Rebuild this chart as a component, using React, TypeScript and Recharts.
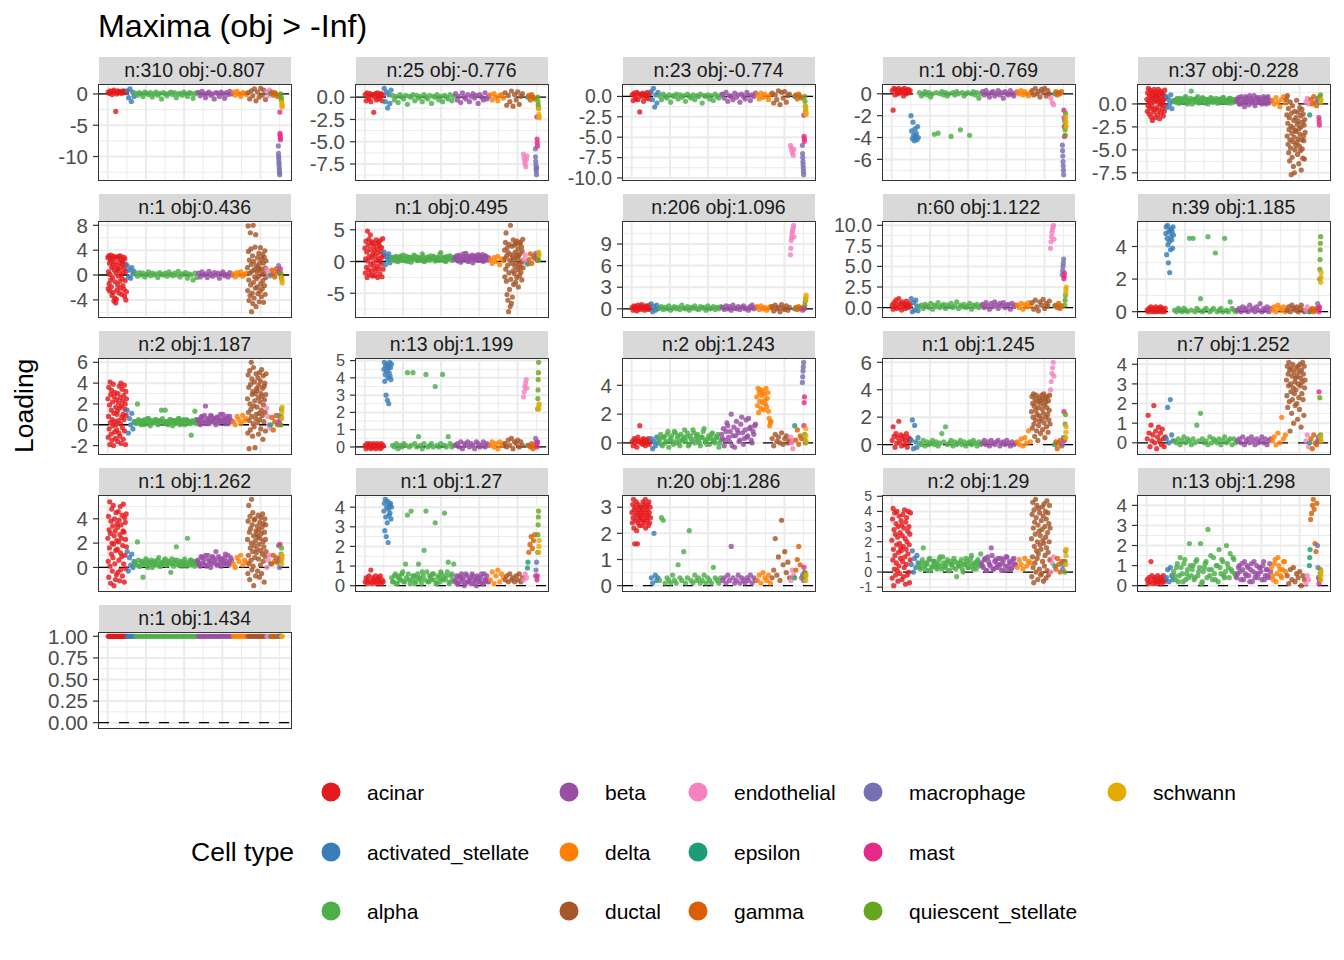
import React from 'react';
import { ScatterChart, Scatter, XAxis, YAxis, CartesianGrid, ReferenceLine } from 'recharts';

const FONT = '"Liberation Sans", Arial, Helvetica, sans-serif';

const cellTypes = ['acinar', 'activated_stellate', 'alpha', 'beta', 'delta', 'ductal', 'endothelial', 'epsilon', 'gamma', 'macrophage', 'mast', 'quiescent_stellate', 'schwann'];
const cellColors = ['#E41A1C', '#377EB8', '#4DAF4A', '#984EA3', '#FF7F00', '#A65628', '#F781BF', '#1B9E77', '#D95F02', '#7570B3', '#E7298A', '#66A61E', '#E6AB02'];
// cells per type, in the order they run along x
const cellCounts = [990, 420, 3300, 1820, 780, 990, 210, 50, 370, 80, 40, 60, 30];

const stripLabels = [
  'n:310 obj:-0.807', 'n:25 obj:-0.776', 'n:23 obj:-0.774', 'n:1 obj:-0.769', 'n:37 obj:-0.228',
  'n:1 obj:0.436', 'n:1 obj:0.495', 'n:206 obj:1.096', 'n:60 obj:1.122', 'n:39 obj:1.185',
  'n:2 obj:1.187', 'n:13 obj:1.199', 'n:2 obj:1.243', 'n:1 obj:1.245', 'n:7 obj:1.252',
  'n:1 obj:1.262', 'n:1 obj:1.27', 'n:20 obj:1.286', 'n:2 obj:1.29', 'n:13 obj:1.298',
  'n:1 obj:1.434',
];

const panelTicks = [
  ['0', '-5', '-10'], ['0.0', '-2.5', '-5.0', '-7.5'], ['0.0', '-2.5', '-5.0', '-7.5', '-10.0'], ['0', '-2', '-4', '-6'], ['0.0', '-2.5', '-5.0', '-7.5'],
  ['8', '4', '0', '-4'], ['5', '0', '-5'], ['9', '6', '3', '0'], ['10.0', '7.5', '5.0', '2.5', '0.0'], ['4', '2', '0'],
  ['6', '4', '2', '0', '-2'], ['5', '4', '3', '2', '1', '0'], ['4', '2', '0'], ['6', '4', '2', '0'], ['4', '3', '2', '1', '0'],
  ['4', '2', '0'], ['4', '3', '2', '1', '0'], ['3', '2', '1', '0'], ['5', '4', '3', '2', '1', '0', '-1'], ['4', '3', '2', '1', '0'],
  ['1.00', '0.75', '0.50', '0.25', '0.00'],
];

// loadings per panel, one list per cell type (order of cellTypes)
const p01 = [
  [0.3, 0.1, 0.5, 0.2, -0.1, 0.4, 0.6, 0.2, -2.8, 0, 0.5, 0.3, 0.2, 0.4, 0.1, 0.3, 0.5, 0.2, 0.4, 0.3],
  [0.5, -0.6, 0.8, -1.2, 0.3, -0.4],
  [0.1, -0.2, 0.2, 0, -0.4, 0.3, 0.1, -0.1, 0.2, -0.5, 0, 0.3, -0.2, 0.1, -0.8, 0.2, 0, -0.3, 0.1, 0.3, -0.1, 0.2, -0.6, 0, 0.1, -0.2, 0.3, 0, -0.4, 0.2, 0.1, -0.7, 0, 0.2],
  [0.2, -0.3, 0.4, 0, -0.6, 0.1, 0.3, -0.2, 0, -0.8, 0.2, 0.1, -0.4, 0.3, 0, -0.7, 0.2, -0.1, 0.4, 0],
  [0.3, -0.2, 0.4, 0, -0.4, 0.2, 0.1, -0.1],
  [0.2, -0.8, 0.5, -0.3, 0.8, -1.1, 0.3, -0.5, 0.9, -0.2, 0.6, -0.9],
  [0.4, -0.3, 0.6],
  [0.1],
  [0.3, -0.2, 0.2, 0, -0.4],
  [-8.3, -9.5, -10, -10.4, -10.9, -11.3, -11.8, -12.2, -12.6, -12.9],
  [-2.9, -6.3, -6.6, -7, -7.3],
  [0, -0.4, -0.8, -1],
  [-1.3, -1.6, -1.9, -2.1],
];
const p02 = [
  [0.3, -0.4, 0.5, 0.1, -0.2, 0.4, -0.5, 0.2, 0.3, -1.7, 0, 0.4, -0.3, 0.5, 0.1, -0.2, 0.3, 0.4, -0.4, 0.2],
  [1.0, -0.5, 0.6, -1.2, 0.3, -0.7, 0.8],
  [0.2, -0.3, 0.1, -0.6, 0.3, 0, -0.2, 0.2, -0.8, 0.1, 0, 0.3, -0.4, 0.2, -0.1, 0.1, -0.5, 0.3, 0, -0.2, 0.2, -0.7, 0.1, 0, 0.3, -0.3, 0.1, -0.5, 0.2, 0, -0.2, 0.3, -0.4, 0.1],
  [0.4, -0.3, 0.1, -0.6, 0.5, 0, -0.2, 0.3, -0.5, 0.1, 0.4, -0.1, 0.2, -0.7, 0.3, 0, -0.3, 0.5, -0.2, 0.1],
  [0.3, -0.3, 0.4, 0, -0.4, 0.2, 0.3, -0.1],
  [0.5, -0.9, 0.2, -0.5, 0.7, -1.0, 0.3, -0.3, 0.6, -0.8, 0.1, 0.4],
  [-6.4, -6.8, -7.2, -7.5, -7.8, -7.0, -6.6],
  [0],
  [0.2, -0.3, 0.3, 0, -0.2],
  [-5.8, -6.7, -7.2, -7.6, -8, -8.3, -8.7, -7.9],
  [-2.2, -4.7, -5.1, -5.5],
  [0, -0.5, -0.9, -1.2],
  [-1.3, -1.9, -2.2, -2.3],
];
const p03 = [
  [0.2, -0.5, 0.4, 0.1, -0.3, 0.5, -0.4, 0.3, -1.9, 0.2, 0, 0.4, -0.6, 0.3, 0.1, -0.2, 0.5, 0.2, -0.3, 0.4],
  [0.6, -0.4, 1.0, -1.3, 0.2, -0.8, 0.5],
  [0.1, -0.4, 0.3, 0, -0.2, 0.2, -0.7, 0.1, 0, 0.3, -0.3, 0.2, -0.1, 0.1, -0.6, 0.3, 0, -0.2, 0.2, -0.4, 0.1, 0, 0.3, -0.8, 0.1, 0, 0.2, -0.3, 0.1, -0.5, 0.3, 0, -0.2, 0.2],
  [0.3, -0.2, 0.5, -0.6, 0.1, 0, -0.4, 0.4, -0.1, 0.2, -0.7, 0.3, 0, -0.3, 0.5, 0.1, -0.5, 0.2, 0, 0.4],
  [0.2, -0.3, 0.4, -0.1, 0.3, 0, -0.4, 0.2],
  [0.4, -0.8, 0.2, -0.4, 0.7, -1.0, 0.5, -0.2, 0.6, -0.7, 0.1, 0.3],
  [-6.0, -6.3, -6.6, -6.9, -7.2, -6.5],
  [0],
  [0.2, -0.3, 0.3, 0, -0.2],
  [-6, -7, -7.5, -8, -8.4, -8.8, -9.2, -9.6],
  [-2.3, -4.9, -5.2, -5.5],
  [0, -0.6, -1.2, -1.8],
  [-1.2, -1.6, -2.0, -2.2],
];
const p04 = [
  [0.3, -1.5, 0.5, -0.1, 0.4, 0.2, 0, 0.5, 0.1, 0.3, 0.1, 0.4, -0.2, 0.5, 0.2, 0, 0.3, 0.4, 0.1, 0.3],
  [-2.0, -3.4, -4.1, -2.6, -3.8, -4.3, -3.2, -3.9, -3.6, -4.2, -3.0, -4.0],
  [0.1, -0.2, 0, 0.2, -0.1, 0.1, -0.3, 0, -3.7, 0.1, -3.6, 0, 0.2, -0.1, 0.1, -0.2, 0, -3.9, 0.1, -0.1, 0.2, 0, -3.3, 0.1, -0.2, 0, 0.1, -3.8, 0, 0.2, -0.1, 0.1, -0.4, 0],
  [0.2, -0.1, 0.3, 0, -0.3, 0.1, 0.2, -0.2, 0, 0.3, -0.1, 0.1, -0.4, 0.2, 0, -0.1, 0.3, 0, -0.2, 0.1],
  [0.2, 0, 0.3, -0.1, 0.2, 0, -0.2, 0.1],
  [0.3, -0.1, 0.5, 0, 0.2, -0.3, 0.4, 0.1, 0.5, -0.2, 0.3, 0],
  [-0.4, -0.8, -1.0],
  [0],
  [0.2, -0.1, 0.1, 0, 0.2],
  [-4.7, -5.2, -5.7, -6.2, -6.6, -7, -7.4],
  [-1.5, -2.2, -3.0, -3.9],
  [-2.5, -2.9, -3.3, -3.8, -1.8],
  [-2.2, -2.6, -3.0],
];
const p05 = [
  [0.5, -0.8, 1.2, -0.2, 1.7, 0.3, -1.1, 0.9, -0.5, 1.5, 0.1, -1.4, 0.7, 1.1, -0.3, -1.8, 0.6, 1.3, -0.9, 0.2, 1.6, -0.6, 0.8, -1.5, 0.4, 1.0,
    1.3, -0.4, 0.9, -1.2, 0.2, 1.6, -0.7, 0.6, 1.1, -1.6, 0.4, -0.1, 1.4, -1.0, 0.8, 0, 1.2, -0.5, 0.3, -1.3, 1.0, 0.5, -0.8, 1.5, -0.2, 0.7],
  [0.8, -0.4, 0.5, 0, 1.0, -0.5, 0.3],
  [0.3, 0.5, 0.1, 0.6, 0.2, 0.4, 0.8, 0, 0.3, 1.4, 0.5, 0.2, 0.6, 0.1, 0.4, 0.7, 0.2, 0.5, 0, 0.3, 0.6, 0.2, 0.4, 0.1, 0.5, 0.3, 0.7, 0.2, 0.4, 0.1, 0.6, 0.3, 0.2, 0.5],
  [0.5, 0, 0.8, 0.2, -0.3, 0.6, 0.3, 0.9, 0.1, 0.4, -0.2, 0.7, 0.2, 0.5, 0, 0.8, 0.3, 0.6, 0.1, 0.4],
  [0.4, 0, 0.7, 0.2, -0.3, 0.5, 0.8, 0.1],
  [0.5, -1.2, -3.5, 0.9, -2.1, -4.4, -0.5, -5.3, -2.8, -1.5, -6.2, -3.9, 0.2, -4.8, -2.4, -7.7, -1.0, -3.2, -5.8, -0.2, -4.1, -2.6, -6.8, -1.8, -3.6, -7.5, -0.8, -5.0, -2.9, -4.5,
    -1.5, -3.0, 0.4, -4.2, -2.2, -5.5, -0.9, -3.8, -1.9, -6.5, -2.7, -4.6, -0.4, -3.3, -5.1, -1.3, -2.5, -7.2, -3.9, -0.6, -4.9, -2.0, -5.9, -1.1, -3.5, -4.0, -2.3, -6.0, -1.7, -3.1],
  [0.2, 0.6, 0],
  [-1.2],
  [0.5, 0, 0.8, 0.2, -0.2],
  [0.6, 0.3],
  [-1.5, -1.9, -2.3],
  [0.8, 0.4, 1.0],
  [0.2, 0.5],
];
const p06 = [
  [2.8, -2.2, 0.5, 3.1, -1.4, 1.9, -2.6, 0.1, 2.4, -0.8, 3.2, -1.9, 1.2, -3.3, 2.6, -0.4, 1.6, -2.8, 3.0, -4.2, 0.8, 2.1, -3.7, -1.1, 2.9, -4.5, 0.3, -3.9, 1.5, -2.4,
    1.0, -1.6, 2.7, -0.2, 3.0, -2.9, 0.7, 2.0, -1.0, 3.1, -2.1, 1.3, 0.0, 2.5, -3.1, 1.8, -0.6, 2.2, -1.7, 0.4, 2.9, -2.3, 1.1, -3.4, 2.6, -0.9, 1.7, -4.0, 0.6, -2.7],
  [1.5, -0.3, 0.8, -0.5, 1.2, 0.2, 0.6],
  [0.2, -0.2, 0.4, 0, 0.3, -0.3, 0.1, 0.5, -0.1, 0.3, 0, 0.2, -0.4, 0.4, 0.1, 0, 0.3, -0.2, 0.5, 0.1, -0.1, 0.3, 0, 0.6, -0.3, 0.2, 0.1, 0.4, -0.5, 0.2, 0, -0.8, 0.3, -0.4],
  [0.3, -0.3, 0.5, 0, 0.2, -0.4, 0.6, 0.1, -0.2, 0.4, 0, 0.3, -0.5, 0.2, 0.5, -0.1, 0.1, -0.3, 0.4, 0],
  [0.2, -0.3, 0.4, 0, 0.5, -0.2, 0.1, 0.3],
  [1.2, -2.5, 7.9, 3.8, -0.8, -4.1, 2.4, 0.3, -3.3, 6.8, -1.6, 4.2, 1.7, -5.9, 0.6, -2.9, 3.1, -4.6, 8.0, -1.2, 2.2, -3.7, 0.9, -0.3, 4.5, -2.1, 6.5, -5.1, 1.5, -0.6,
    0.5, -1.9, 2.8, -3.0, 1.3, -0.2, 3.5, -4.3, 0.8, 2.0, -2.6, 4.4, -1.4, 1.0, -3.5, 2.6, 0.1, -2.2, 3.3, -0.9, 1.9, -4.4, 0.4, 2.9, -1.7, 3.9, -3.1, 1.1, -0.4, 2.3],
  [0.9, 0.2, -0.2],
  [0],
  [0.8, 0.2, -0.3, 1.0, 0.5],
  [1.5, 0.4],
  [0.2, 1.0],
  [0.3, -0.3, -0.6],
  [-0.4, -0.9, -1.3],
];
const p07 = [
  [2.1, -1.8, 0.4, 3.2, -0.9, 1.5, -2.5, 4.8, 0.1, 2.6, -1.3, 3.5, 0.8, -2.1, 1.9, 4.2, -0.5, 2.9, -1.6, 0.6, 3.1, -2.3, 1.2, -0.2, 2.4, -1.0,
    1.7, -2.2, 0.9, 2.8, -1.5, 3.4, 0.2, -0.7, 2.0, -2.5, 1.3, 3.0, -1.1, 0.5, 2.5, -1.9, 3.3, 0, 1.6, -0.4, 2.2, -2.4, 0.7, 3.6, -1.2, 1.0],
  [1.5, -0.5, 0.8, 0.3, 1.2, -0.2, 0.6],
  [0.5, 0.2, 0.8, 0, 0.6, 0.3, 1.0, 0.1, 0.4, 0.7, -0.1, 0.5, 0.9, 0.2, 0.6, 0.3, 1.2, 0, 0.4, 0.7, 0.2, 0.5, 0.8, 0.1, 0.6, 0.3, 1.4, 0.4, 0.7, 0.1, 0.5, 0.9, 0.2, 0.6],
  [0.6, 0.2, 1.0, -0.1, 0.7, 0.3, 1.3, 0.1, 0.8, 0.4, -0.2, 0.9, 0.5, 1.1, 0.2, 0.7, 0, 0.9, 0.4, 0.6],
  [0.3, -0.3, 0.6, 0, 0.8, -0.5, 0.4, 0.2],
  [1.8, -2.4, 0.5, 3.0, -1.2, 4.5, -3.1, 0.9, -5.2, 2.2, -0.6, -6.1, 1.4, -7.9, -1.8, 2.7, -4.4, 0.2, -7.1, 5.7, -2.8, 1.1, -6.6, -0.3, 2.4, -5.6, 0.7, -1.5, 3.4, -3.6,
    0.3, -1.9, 2.6, -0.8, 1.5, -3.3, 2.9, -0.2, 1.0, -2.5, 3.2, 0.6, -1.3, 2.0, -4.0, 0.9, -0.5, 2.8, -2.2, 1.2, -0.9, 3.0, -1.7, 0.1, 2.3, -2.9, 1.6, -0.1, 3.5, -1.0],
  [0.3, 1.0, -0.2],
  [-0.4],
  [0.3, 1.2, -0.3, 0.8, 0.5],
  [1.3, 0.6],
  [1.0, 0.2],
  [0.5, 1.2, 0.2],
  [1.5, 1.0],
];
const p08 = [
  [0.2, -0.2, 0.4, 0, 0.3, -0.3, 0.5, 0.1, -0.1, 0.3, 0.6, 0, 0.2, -0.2, 0.4, 0.1, 0.3, -0.1, 0.5, 0],
  [0.7, -0.4, 0.3, -0.2, 0.5, 0],
  [0.1, 0.3, -0.1, 0.2, 0, 0.4, -0.2, 0.1, 0.3, 0, 0.2, -0.1, 0.5, 0.1, 0, 0.3, -0.2, 0.2, 0.1, 0.4, 0, -0.1, 0.3, 0.1, 0.2, -0.2, 0.4, 0, 0.1, 0.3, -0.1, 0.2, 0, 0.3],
  [0.2, -0.1, 0.4, 0, 0.3, -0.2, 0.5, 0.1, 0, 0.3, -0.1, 0.2, 0.4, 0, 0.1, -0.2, 0.3, 0.5, 0, 0.2],
  [0.3, -0.1, 0.4, 0, 0.2, -0.2, 0.1, 0.3],
  [0.3, -0.3, 0.5, 0, 0.2, -0.4, 0.6, 0.1, -0.1, 0.4, -0.2, 0.2],
  [7.5, 8.4, 9.5, 9.9, 10.3, 10.7, 11.0, 11.3, 11.6, 10.0],
  [0],
  [0.2, -0.1, 0.3, 0, 0.1],
  [-0.2, 0.1],
  [0, 0.2],
  [0.5, 1.0, 1.4],
  [1.2, 1.6, 1.9],
];
const p09 = [
  [0.3, -0.2, 0.6, 0.1, 0.9, -0.1, 0.4, 1.1, 0, 0.5, -0.3, 0.7, 0.2, 0.4, -0.1, 0.8, 0.3, 0, 0.5, 0.2],
  [1.1, -0.5, 0.6, -0.3, 0.9, 0.2, -0.4],
  [0.1, 0.3, -0.1, 0.4, 0.2, 0, 0.5, -0.2, 0.3, 0.1, 0.6, 0, 0.2, 0.4, -0.1, 0.3, 0.1, 0.5, 0, 0.2, 0.7, -0.1, 0.3, 0.1, 0.4, 0, 0.2, 0.5, -0.2, 0.3, 0.1, 0.4, 0, 0.2],
  [0.4, 0, 0.6, 0.2, -0.2, 0.5, 0.1, 0.7, 0.3, -0.1, 0.5, 0.2, 0.6, 0, 0.3, 0.4, -0.2, 0.5, 0.1, 0.3],
  [0.3, 0, 0.5, -0.2, 0.4, 0.1, 0.6, 0.2],
  [0.6, -0.2, 0.9, 0.1, -0.4, 0.7, 0.3, 1.0, -0.1, 0.5, 0.2, 0.8],
  [7.2, 8.0, 8.6, 9.1, 9.5, 9.8, 10.0, 8.3],
  [0.2],
  [0.3, 0, 0.5, -0.1, 0.2],
  [4.0, 4.5, 5.0, 5.4, 5.9],
  [3.5, 3.8, 4.2],
  [0.3, 0.9, 1.5],
  [1.8, 2.2, 2.5],
];
const p10 = [
  [0.1, 0, 0.2, 0.1, 0.3, 0, 0.1, 0.2, 0, 0.3, 0.1, 0, 0.2, 0.1, 0.3, 0, 0.2, 0.1, 0, 0.2],
  [4.8, 5.2, 3.5, 4.5, 5.3, 4.1, 3.0, 4.9, 4.3, 2.4, 5.0, 3.8, 4.6, 5.1, 4.4, 4.9, 3.9, 5.2, 4.7],
  [0.1, 0, 0.2, 0.1, 0, 0.2, 0.1, 0, 4.5, 0.1, 4.5, 0, 0.2, 0.1, 0.8, 0, 0.1, 0.2, 4.6, 0, 0.1, 0.2, 3.6, 0, 0.1, 0.2, 0, 4.5, 0.1, 0, 0.6, 0.2, 0.1, 0],
  [0.1, 0.2, 0, 0.3, 0.1, 0.2, 0, 0.4, 0.1, 0.2, 0, 0.3, 0.1, 0.5, 0, 0.2, 0.1, 0.3, 0, 0.2],
  [0.1, 0.3, 0, 0.4, 0.2, 0.1, 0.3, 0],
  [0.1, 0.3, 0, 0.4, 0.2, 0.1, 0.3, 0, 0.2, 0.4, 0.1, 0],
  [0.1, 0.3, 0],
  [0],
  [0.1, 0.2, 0, 0.1, 0.2],
  [0.5, 0.2],
  [0, 0.2, 0.3],
  [2.0, 2.6, 3.2, 3.8, 4.2, 4.6],
  [1.8, 2.1, 2.4],
];
const p11 = [
  [2.5, -1.2, 0.8, 3.6, -0.4, 1.9, -1.9, 4.1, 0.2, 2.9, -0.9, 1.4, 3.3, -1.5, 0.5, 2.2, -0.1, 3.9, -2.0, 1.1, 2.7, -0.7, 0.3, 3.1, -1.3, 1.7, 0, 2.4, -0.5, 1.0,
    1.3, -1.6, 3.0, 0.4, 2.1, -0.8, 3.7, 1.6, -1.1, 2.6, 0.1, 4.0, -1.8, 1.8, 0.7, 3.4, -0.3, 2.3, 1.0, -1.4, 2.8, 0.5, 3.8, -0.6, 1.5, 2.0, -1.9, 3.2, 0.9, 2.5],
  [1.4, -0.8, 0.6, 0, 1.1, -0.4, 0.3],
  [0.2, 2.0, 0.4, 0, 0.3, 0.5, 0.1, 0.6, -0.1, 0.3, 0.2, 0.5, 0, 0.4, 1.4, 0.2, 1.4, 0.3, 0.1, 0.5, -0.1, 0.4, 0.2, 0.6, 0, 0.3, 0.5, 0.1, 0.4, 0.2, -1.0, 0.3, 1.3, 0.1],
  [0.4, 0, 0.8, 0.2, 1.8, 0.5, 0.1, 0.9, 0.3, 0.6, 0, 0.7, 0.2, 0.5, 1.0, 0.3, 0.6, 0.1, 0.8, 0.4],
  [0.3, 0, 0.8, 0.5, 0.1, 0.9, 0.4, 0.6],
  [2.5, -0.8, 4.8, 1.2, 3.6, -2.3, 0.4, 5.2, 2.0, -0.5, 3.9, 1.5, 6.0, 0.8, 4.4, 2.9, -1.1, 3.2, 0.1, 5.5, 1.8, -0.2, 4.1, 2.3, -2.2, 3.0, 0.6, 4.9, 1.0, 3.5,
    1.7, 3.3, 0.2, 4.5, 2.6, -0.9, 3.8, 1.1, 5.0, 0.5, 2.2, 4.2, -0.4, 3.0, 1.4, 5.3, 2.7, 0.9, 3.5, -1.4, 4.7, 1.9, 0.3, 3.7, 2.4, 4.0, 1.2, -0.6, 2.9, 4.9],
  [1.6, 0.8, 0, -0.3],
  [0],
  [0.7, -0.5, 0.3, 0.9, 0],
  [0.2, 0.9],
  [0.5, 0],
  [0, 0.8, 1.5],
  [0.6, 1.2, 1.7],
];
const p12 = [
  [0.1, -0.1, 0.2, 0, 0.1, 0.2, -0.1, 0, 0.1, 0.2, 0, -0.1, 0.1, 0.2, 0, 0.1, -0.1, 0.2, 0, 0.1],
  [4.5, 4.9, 3.8, 4.2, 4.7, 3.0, 4.4, 4.8, 2.7, 4.0, 4.6, 2.5, 4.3, 4.9, 4.1, 4.6, 3.9, 4.8],
  [0.1, 0, 0.2, -0.1, 0.1, 0, 0.2, 0.1, 4.3, 0, 0.1, 4.3, 0.2, 0, 0.6, 0.1, -0.1, 0.2, 4.2, 0, 0.1, 0.2, 0, 3.5, 0.1, 0, 0.2, 4.2, 0.1, 0, 0.6, 0.2, 0, 0.1],
  [0.1, 0.2, 0, 0.3, -0.1, 0.2, 0.1, 0.3, 0, 0.2, 0.1, -0.1, 0.3, 0.2, 0, 0.1, 0.3, 0, 0.2, 0.1],
  [0.1, 0.3, 0, 0.2, -0.1, 0.3, 0.1, 0.2],
  [0.2, 0, 0.4, 0.1, 0.5, -0.1, 0.3, 0.2, 0.4, 0, 0.3, 0.1],
  [2.9, 3.2, 3.5, 3.7, 3.9, 3.4],
  [0.1],
  [0.1, 0, 0.2, -0.1, 0.1],
  [0.5, 0.3],
  [0, 0.2, 0.3],
  [2.2, 2.8, 3.3, 3.9, 4.3, 4.9],
  [2.2, 2.4, 2.5],
];
const p13 = [
  [0.1, -0.2, 0.3, 0, 0.2, -0.3, 0.4, 0.1, 1.2, 0, 0.2, -0.1, 0.3, 0.1, -0.2, 0.2, 0, 0.3, -0.1, 0.1],
  [0.3, -0.4, 0.1, -0.2, 0.4, 0],
  [0.2, -0.1, 0.4, 0, 0.6, -0.3, 0.3, 0.1, 0.8, 0, 0.5, -0.2, 0.2, 0.4, 0.1, 0.7, -0.1, 0.3, 0.9, 0, 0.5, 0.2, -0.2, 0.4, 1.0, 0.1, 0.3, -0.1, 0.6, 0.2, 0, 0.4, -0.3, 0.2],
  [0.3, -0.2, 0.8, 1.2, 0.1, 2.0, 0.5, -0.3, 1.5, 0.7, 0.2, 1.8, -0.1, 0.9, 0.4, 1.7, 1.1, 0, 0.6, 1.3],
  [3.2, 2.6, 3.8, 2.1, 3.5, 2.9, 3.7, 2.4, 3.3, 2.8, 3.6, 2.3, 3.4, 3.0, 2.7, 3.8, 2.5, 3.1, 3.5, 2.2, 1.7, 1.2, 1.4, 1.5],
  [0.3, -0.2, 0.6, 0.1, 0.4, 0, 0.7, -0.1, 0.3, 0.5, 0, 0.2],
  [0.4, 0, -0.4, 0.2],
  [1.2],
  [0.2, 0.9, -0.1, 0.5, 0.3],
  [4.2, 4.6, 5.0, 5.3, 5.6],
  [1.2, 2.8, 3.2],
  [0.6, 0.2, 0],
  [1.0, 0.5, 0.1],
];
const p14 = [
  [0.3, 1.3, 0.6, -0.2, 0.8, 0.1, 0.5, 1.7, 0.2, 0.7, -0.1, 0.4, 0.6, 0, 0.3, 0.8, -0.2, 0.5, 0.2, 0.4],
  [0.3, 1.8, -0.3, 1.4, 0.2, -0.2, 0.5],
  [0.1, 0, 0.3, -0.1, 0.2, 0, 0.1, 0.3, 0, 0.2, -0.1, 0.1, 0.8, 0.2, 1.3, 0, 0.1, 0.3, -0.1, 0.2, 0, 0.1, 0.3, 0, 0.2, -0.1, 0.1, 0.2, 0, 0.3, 0.1, -0.1, 0.2, 0],
  [0.1, 0.3, 0, 0.2, -0.1, 0.3, 0.1, 0, 0.2, 0.3, -0.1, 0.1, 0.2, 0, 0.3, 0.1, -0.1, 0.2, 0, 0.1],
  [0.2, 0, 0.4, -0.1, 0.5, 0.1, 1.0, 0.2],
  [2.4, 3.5, 1.2, 3.0, 2.0, 3.7, 1.5, 2.8, 0.6, 3.3, 1.8, 2.5, 3.6, 1.0, 2.2, 3.1, 0.3, 2.7, 1.4, 3.4, 2.1, 1.7, 3.2, 0.8,
    3.0, 1.9, 3.6, 2.6, 1.1, 3.3, 2.3, 3.7, 1.6, 2.9, 0.5, 3.4, 2.0, 3.1, 1.3, 2.7, 3.5, 2.2, 0.9, 3.2, 1.8, 2.5, 3.6, 1.5],
  [4.0, 4.6, 5.2, 5.6, 6.0, 5.0],
  [0],
  [0.2, -0.3, 0.1, 0.3, -0.1],
  [0, 0.5],
  [2.4, 0.3],
  [0.5, 1.5, 2.2],
  [0.5, 0.9, 1.3],
];
const p15 = [
  [0.2, 1.4, 0.5, -0.2, 0.9, 0.1, 0.4, 1.9, 0, 0.6, -0.3, 0.3, 0.8, 0.1, 0.5, -0.1, 0.7, 0.2, -0.2, 0.3],
  [0.2, 1.8, 0, 2.2, 0.4, 0.1],
  [0.1, 0, 0.2, -0.1, 0.1, 0.3, 0, 0.2, 0.1, -0.1, 0.2, 0, 0.9, 0.1, 1.5, 0.2, 0, 0.1, -0.1, 0.3, 0, 0.2, 0.1, 0, 0.2, -0.1, 0.1, 0.3, 0, 0.1, 0.2, -0.1, 0.2, 0],
  [0.1, 0.2, 0, 0.3, -0.1, 0.1, 0.2, 0, 0.3, 0.1, -0.1, 0.2, 0, 0.1, 0.3, 0, 0.2, -0.1, 0.1, 0.2],
  [0.1, 0.3, -0.1, 0.5, 0, 1.3, 0.2, 0.4],
  [3.2, 2.4, 3.9, 1.8, 3.5, 2.9, 4.1, 2.1, 3.7, 0.6, 3.0, 2.6, 3.8, 1.5, 3.4, 2.2, 4.0, 2.8, 1.0, 3.6, 2.5, 3.1, 1.9, 3.3,
    2.7, 3.8, 2.0, 3.4, 1.2, 3.9, 3.0, 2.3, 3.6, 1.7, 4.0, 2.9, 3.3, 0.8, 3.7, 2.5, 3.1, 4.1, 2.2, 3.5, 1.4, 3.9, 2.8, 3.2],
  [0.1, 0.4, -0.2],
  [0],
  [0.2, -0.3, 0.4, 0, -0.1],
  [0.1, 0.3],
  [2.6, 0.1],
  [2.3, 0.2, 0.4],
  [0.3, 0.1],
];
const p16 = [
  [2.4, 0.5, 4.2, -0.8, 3.1, 1.6, 5.4, 0.1, 2.8, -1.3, 3.8, 1.1, 4.8, 2.0, -0.3, 3.4, 0.8, 5.1, 1.9, -1.5, 2.6, 4.0, 0.3, 3.0, -1.0, 1.4, 4.5, -0.6, 2.2, 3.6,
    1.5, 3.3, -0.4, 4.6, 2.1, 0.6, 3.9, -1.1, 2.7, 5.0, 1.2, -0.2, 3.5, 2.4, 0.9, 4.3, -0.7, 1.8, 3.0, 5.2, 0.3, 2.9, -1.2, 4.1, 1.0, 3.7, 2.3, -0.1, 4.4, 1.7],
  [1.3, -0.3, 0.8, 0.2, 1.1, 0, 0.5],
  [0.3, 2.1, 0.1, 0.5, -0.8, 0.3, 0.6, 0.2, 0.4, 0, 0.5, 0.2, 0.6, 0.1, 0.4, 0.3, 0.7, 0.2, 0.5, -0.4, 0.3, 0.6, 1.7, 0.2, 0.4, 0.1, 0.5, 0.3, 2.4, 0.2, 0.6, 0.4, 0.1, 0.5],
  [0.4, 0.1, 0.8, 0.3, 1.0, 0.2, 0.6, 0, 0.9, 0.4, 1.3, 0.2, 0.7, 0.1, 0.5, 0.8, 0.3, 1.0, 0.4, 0.6],
  [0.3, 0, 0.8, 0.5, 1.0, 0.2, 0.6, 0.4],
  [2.3, -0.5, 3.8, 1.0, 5.1, 0.3, 2.9, -1.0, 4.2, 1.6, 3.2, 0.6, 2.0, 5.6, -0.2, 3.5, 1.3, 4.5, 0.1, 2.6, -1.5, 3.9, 1.8, 0.8, 4.0, 2.2, -0.7, 3.0, 1.2, 2.7,
    1.5, 3.4, -0.3, 2.5, 4.3, 0.7, 3.1, 1.9, -0.8, 3.7, 2.4, 0.2, 4.1, 1.4, 2.8, -0.5, 3.3, 1.1, 4.4, 2.1, 0.5, 3.6, 1.7, -1.2, 2.9, 4.0, 0.9, 2.3, 3.5, 1.3],
  [0, 0.6, 1.0],
  [0.3],
  [0.3, 1.0, 0.5, 0.8, 0.4],
  [1.8, 0.6, 0],
  [1.9, 0.8],
  [0.5, 1.1, 1.6],
  [0.3, 0.7, 1.0],
];
const p17 = [
  [0.2, 0.4, 0.1, 0.3, 0.5, 0.2, 0.8, 0.1, 0.4, 0.3, 0.2, 0.5, 0.1, 0.3, 0.4, 0.2, 0.5, 0.1, 0.3, 0.2],
  [3.8, 4.2, 2.8, 4.4, 3.5, 2.5, 4.0, 3.2, 4.3, 2.2, 3.9, 3.6, 4.1, 3.7, 4.2, 3.4, 4.0],
  [0.2, 0.5, 0.1, 0.4, 0.3, 0.6, 0.2, 1.1, 3.6, 0.3, 3.8, 0.5, 0.1, 0.4, 1.1, 0.3, 0.7, 1.8, 3.8, 0.2, 0.5, 0.3, 0.6, 3.2, 0.1, 0.4, 0.7, 0.3, 3.7, 0.5, 1.2, 0.2, 0.6, 1.1],
  [0.3, 0.1, 0.5, 0.2, 0.4, 0, 0.6, 0.2, 0.3, 0.1, 0.5, 0.3, 0, 0.4, 0.2, 0.6, 0.1, 0.3, 0.5, 0.2],
  [0.3, 0.7, 0.1, 0.5, 0.8, 0.2, 0.6, 0.4],
  [0.3, 0.5, 0.2, 0.6, 0.3, 0.4, 0.2, 0.5, 0.3, 0.6, 0.2, 0.4],
  [0.3, 0.6, 0.4],
  [0.9, 1.2],
  [1.7, 2.1, 2.5, 1.9, 2.3, 2.6],
  [0.5, 0.8, 1.2],
  [0.3, 0.5],
  [1.7, 2.6, 3.1, 3.5, 3.8],
  [1.7, 2.0, 2.3],
];
const p18 = [
  [2.8, 2.4, 3.1, 2.6, 3.3, 2.2, 2.9, 1.6, 3.0, 2.5, 2.7, 3.2, 2.1, 2.8, 1.6, 2.4, 3.1, 2.6, 2.9, 2.3, 3.0, 2.7, 2.5, 2.8,
    2.6, 3.0, 2.3, 2.9, 3.2, 2.5, 2.7, 3.1, 2.4, 2.8, 3.3, 2.2, 3.0, 2.6, 2.9, 2.5, 3.1, 2.7, 2.3, 3.2, 2.8, 2.4, 3.0, 2.6],
  [0.3, 0.1, 2.0, 0.4, 0.2, 0.3],
  [0.2, 2.6, 2.5, 0.1, 0.3, 0.2, 0.1, 0.4, 0.2, 0.1, 0.8, 0.3, 0.2, 1.3, 0.1, 0.3, 2.1, 0.2, 0.1, 0.4, 0.2, 0.3, 0.1, 0.2, 0.4, 0.1, 0.3, 0.2, 0.1, 0.7, 0.3, 0.2, 0.1, 0.3],
  [0.2, 0.3, 0.1, 0.4, 0.2, 1.5, 0.3, 0.1, 0.2, 0.4, 0.1, 0.3, 0.2, 0.1, 0.3, 0.2, 0.4, 0.1, 0.3, 0.2],
  [0.2, 0.4, 0.1, 0.5, 0.3, 0.2, 0.4, 0.1],
  [0.3, 0.6, 1.8, 0.4, 1.1, 0.2, 2.5, 0.8, 1.3, 0.5, 0.9, 0.3],
  [0.2, 0.6, 0.4],
  [0.3],
  [0.6, 1.0, 1.5, 0.8, 0.3],
  [0.4, 0.2],
  [0.7, 0.5],
  [0.3, 0.5, 0.4],
  [0.2, 0.4],
];
const p19 = [
  [2.1, -0.4, 3.5, 0.8, 4.2, 1.5, -0.9, 2.8, 0.2, 3.9, 1.1, 2.5, -0.2, 3.2, 0.6, 1.8, 4.0, 0.1, 2.3, -0.6, 3.0, 1.3, 0.4, 3.7, 1.9, -0.1, 2.6, 0.9, 1.6, 3.4,
    1.4, 3.1, -0.5, 2.4, 0.7, 3.8, 1.7, -0.3, 2.9, 0.3, 4.1, 1.0, 2.2, -0.8, 3.3, 1.5, 0.5, 3.6, 2.0, -0.2, 2.7, 1.2, 4.0, 0.0, 3.0, 1.8, -0.7, 2.5, 0.8, 3.9],
  [0.5, 1.4, 0, 0.9, 0.3, 1.1, 0.6],
  [0.3, 0.6, 1.6, 0.2, 0.5, 0.8, 0.1, 0.4, 0.7, 0.3, 0.5, 1.0, 0.2, 0.6, 0.4, 0.8, 0.1, 0.5, 0.3, 0.7, -0.3, 0.4, 0.6, 0.2, 0.5, 0.9, 0.3, 0.6, 1.1, 0.2, 0.5, 0.7, 0.4, 1.2],
  [0.4, 0.8, 0.1, 1.0, 0.5, 1.6, 0.2, 0.7, 0.3, 0.9, 0.5, 0.1, 0.8, 0.4, 1.0, 0.2, 0.6, 0.3, 0.9, 0.5],
  [0.3, 0.8, 0.5, 0.2, 0.9, 0.4, 0.7, 0.6],
  [2.2, -0.3, 3.8, 1.0, 4.6, 0.3, 2.9, -0.7, 4.1, 1.7, 3.3, 0.6, 2.5, 4.8, 0, 3.6, 1.4, 4.4, 0.9, 2.0, -0.5, 3.1, 1.2, 4.2, 2.7, 0.2, 3.9, 1.8, 2.4, -0.2,
    1.5, 3.4, -0.1, 2.8, 4.3, 0.7, 2.1, 3.7, -0.6, 1.9, 4.5, 0.4, 3.0, 1.1, 4.0, 2.3, -0.4, 3.5, 1.6, 4.7, 0.1, 2.6, 3.9, 1.3, -0.2, 3.2, 2.0, 4.4, 0.8, 2.9],
  [0, 0.6, 1.0],
  [0.4],
  [0.2, 0.9, 0.5, 0, 0.7],
  [0.2, 0.5],
  [0.7],
  [0, 0.7, 1.4],
  [0.5, 1.1, 1.5],
];
const p20 = [
  [0.3, 0.1, 0.4, 0.2, 1.2, 0.5, 0.1, 0.3, 0.4, 0.2, 0.1, 0.5, 0.3, 0.2, 0.4, 0.1, 0.3, 0.5, 0.2, 0.3],
  [0.4, 0.8, 0.2, 0.9, 0.5, 0.3],
  [0.5, 0.9, 0.2, 1.4, 0.6, 1.1, 0.3, 0.8, 2.1, 0.5, 1.0, 0.4, 1.3, 0.7, 2.1, 0.2, 0.9, 1.2, 2.8, 0.5, 0.8, 1.4, 0.3, 1.0, 1.8, 0.6, 1.2, 0.4, 2.0, 0.9, 1.6, 0.7, 1.3, 0.5],
  [0.6, 1.0, 0.3, 0.8, 1.2, 0.5, 0.9, 0.2, 1.1, 0.7, 0.4, 1.0, 0.6, 0.9, 0.3, 1.2, 0.5, 0.8, 0.4, 0.7],
  [0.5, 1.1, 0.2, 1.4, 0.8, 0.4, 1.2, 0.7],
  [0.5, 0.1, 0.8, 0.3, 0.9, 0.2, 0.6, 0.4, 0.7, 0, 0.5, 0.3],
  [0.1, 0.5, 0.3],
  [1.0, 1.4, 1.8],
  [3.3, 3.6, 4.0, 4.3, 3.8, 2.1, 1.7, 4.1],
  [2.0, 0.9, 0.4],
  [0.1, 0.3],
  [0.3, 0.6, 0.8],
  [0.3, 0.5, 0.7],
];
const p21 = [
  [1, 1, 1, 1, 1, 1, 1, 1, 1, 1, 1, 1, 1, 1, 1, 1, 1, 1, 1, 1],
  [1, 1, 1, 1, 1, 1],
  [1, 1, 1, 1, 1, 1, 1, 1, 1, 1, 1, 1, 1, 1, 1, 1, 1, 1, 1, 1, 1, 1, 1, 1, 1, 1, 1, 1, 1, 1, 1, 1, 1, 1],
  [1, 1, 1, 1, 1, 1, 1, 1, 1, 1, 1, 1, 1, 1, 1, 1, 1, 1, 1, 1],
  [1, 1, 1, 1, 1, 1, 1, 1],
  [1, 1, 1, 1, 1, 1, 1, 1, 1, 1, 1, 1],
  [1, 1, 1],
  [1],
  [1, 1, 1, 1, 1],
  [1, 1],
  [1, 1],
  [1, 1, 1],
  [1, 1],
];

// a second batch of cells for the thick bands (same cell types, same x range)
const p05b = [[], [],
  [0.4, 0.2, 0.6, 0.1, 0.5, 0.3, 0.7, 0.2, 0.4, 0.6, 0, 0.5, 0.3, 0.8, 0.2, 0.4, 0.6, 0.1, 0.5, 0.3, 0.7, 0.2, 0.4, 0.6, 0.1, 0.5, 0.3, 0.7, 0.2, 0.4, 0.6, 0.1, 0.5, 0.3],
  [0.3, 0.7, 0, 0.5, 0.2, 0.8, 0.4, -0.1, 0.6, 0.3, 0.9, 0.1, 0.5, 0.7, 0.2, 0.4, 0.6, 0, 0.8, 0.3],
  [], [], [], [], [], [], [], [], []];
const p07b = [[], [],
  [0.4, 0.7, 0.1, 0.6, 0.3, 0.9, 0.2, 0.5, 0.8, 0, 0.6, 0.3, 1.0, 0.4, 0.7, 0.2, 0.5, 0.8, 0.1, 0.6, 0.3, 0.9, 0.4, 0.7, 0.2, 0.5, 1.1, 0.3, 0.6, 0, 0.8, 0.4, 0.7, 0.2],
  [0.4, 0.9, 0.1, 0.7, 0.3, 1.2, 0.5, 0.8, 0, 0.6, 1.0, 0.3, 0.7, 0.2, 0.9, 0.5, 1.1, 0.4, 0.8, 0.2],
  [], [], [], [], [], [], [], [], []];
const p11b = [[], [],
  [0.3, 0.1, 0.5, 0.2, 0.4, 0, 0.3, 0.6, 0.1, 0.4, 0.2, 0.5, 0.3, 0.1, 0.4, 0.6, 0.2, 0.3, 0, 0.5, 0.2, 0.4, 0.1, 0.3, 0.6, 0.2, 0.4, 0, 0.5, 0.3, 0.1, 0.4, 0.2, 0.5],
  [0.5, 0.2, 0.7, 0.4, 0.9, 0.1, 0.6, 0.3, 0.8, 0.5, 0.2, 0.7, 0.4, 1.0, 0.3, 0.6, 0.1, 0.8, 0.5, 0.3],
  [], [], [], [], [], [], [], [], []];
const p13b = [[], [],
  [0.3, 0.6, -0.2, 0.4, 0.1, 0.8, 0.2, 0.5, -0.1, 0.7, 0.3, 0, 0.6, 0.2, 0.9, 0.4, -0.2, 0.5, 0.1, 0.7, 0.3, 0.6, 0, 0.4, 0.8, 0.2, -0.1, 0.5, 0.3, 0.7, 0.1, 0.4, 0.6, 0],
  [0.6, 1.0, 0.2, 1.4, 0.4, 0.8, -0.2, 1.1, 0.5, 0.9, 0.1, 1.3, 0.7, 0.3, 1.6, 0.5, 1.0, 0.2, 0.8, 1.2],
  [], [], [], [], [], [], [], [], []];
const p16b = [[], [],
  [0.4, 0.2, 0.6, 0.1, 0.5, 0.3, 0.7, 0, 0.4, 0.6, 0.2, 0.5, 0.3, 0.8, 0.1, 0.4, 0.6, 0.2, 0.5, 0.3, 0.7, 0.1, 0.4, 0.6, 0.2, 0.5, 0.3, 0.7, 0.1, 0.4, 0.6, 0.2, 0.5, 0.3],
  [0.6, 0.2, 0.9, 0.4, 0.7, 0.1, 1.0, 0.5, 0.3, 0.8, 0.6, 0.2, 0.9, 0.4, 0.7, 0.3, 1.1, 0.5, 0.2, 0.8],
  [], [], [], [], [], [], [], [], []];
const p17b = [[], [],
  [0.4, 0.2, 0.6, 0.1, 0.5, 0.3, 0.7, 0.2, 0.4, 0.6, 0.1, 0.3, 0.5, 0.2, 0.6, 0.4, 0.1, 0.5, 0.3, 0.7, 0.2, 0.4, 0.6, 0.3, 0.1, 0.5, 0.2, 0.6, 0.4, 0.3, 0.7, 0.1, 0.5, 0.3],
  [0.2, 0.5, 0.1, 0.4, 0.6, 0.3, 0.1, 0.5, 0.2, 0.4, 0.6, 0.1, 0.3, 0.5, 0.2, 0.4, 0.1, 0.6, 0.3, 0.2],
  [], [], [], [], [], [], [], [], []];
const p19b = [[], [],
  [0.5, 0.2, 0.8, 0.4, 0.6, 0.1, 0.9, 0.3, 0.7, 0.5, 0.2, 0.8, 0.4, 1.0, 0.3, 0.6, 0.1, 0.7, 0.5, 0.9, 0.2, 0.6, 0.4, 0.8, 0, 0.5, 0.7, 0.3, 0.9, 0.4, 0.6, 0.2, 0.8, 0.5],
  [0.6, 0.3, 0.9, 0.1, 0.7, 0.4, 1.1, 0.2, 0.8, 0.5, 0.3, 0.9, 0.6, 0.1, 1.0, 0.4, 0.7, 0.2, 0.8, 0.5],
  [], [], [], [], [], [], [], [], []];
const p20b = [[], [],
  [0.7, 0.3, 1.1, 0.5, 0.9, 0.2, 1.3, 0.6, 0.4, 1.0, 0.8, 0.3, 1.2, 0.5, 0.9, 0.1, 0.7, 1.1, 0.4, 0.8, 1.5, 0.3, 0.6, 1.0, 0.2, 0.9, 1.3, 0.5, 0.7, 1.1, 0.4, 0.8, 1.4, 0.6],
  [0.4, 0.9, 0.7, 1.1, 0.3, 0.6, 1.0, 0.5, 0.8, 0.2, 1.2, 0.6, 0.4, 0.9, 0.7, 1.0, 0.3, 0.8, 0.5, 1.1],
  [0.9, 0.3, 1.3, 0.6, 1.0, 0.5, 0.8, 1.2],
  [], [], [], [], [], [], [], []];

const panelValues = [p01, p02, p03, p04, p05, p06, p07, p08, p09, p10, p11, p12, p13, p14, p15, p16, p17, p18, p19, p20, p21];
const panelExtra: (number[][] | null)[] = [null, null, null, null, p05b, null, p07b, null, null, null, p11b, null, p13b, null, null, p16b, p17b, null, p19b, p20b, null];

const totalCells = cellCounts.reduce((a, b) => a + b, 0);
const groupStart = cellCounts.map((_, i) => cellCounts.slice(0, i).reduce((a, b) => a + b, 0));
const xDomain: [number, number] = [-0.05 * totalCells, 1.05 * totalCells];
const xMajor = [0, 2000, 4000, 6000, 8000];
const xMinor = [1000, 3000, 5000, 7000, 9000];

const COL_LEFT = [98.7, 355.5, 622.5, 882.5, 1137.5];
const ROW_TOP = [84.3, 221.3, 358.3, 495.3, 632.3];
const PW = 192;
const PH = 95;
const AXIS_W = 100;
const M_TOP = 12;

const Dot = (props: any) => {
  const { cx, cy, fill } = props;
  if (cx == null || cy == null) return null;
  return <circle cx={cx} cy={cy} r={2.6} fill={fill} fillOpacity={0.82} />;
};

// spread a cell type's values evenly over its stretch of the x axis
const toPoints = (vals: number[], g: number, shift: number) =>
  vals.map((y, i) => ({ x: groupStart[g] + ((i + shift) * cellCounts[g]) / vals.length, y }));

function Panel({ idx }: { idx: number }) {
  const values = panelValues[idx];
  const extra = panelExtra[idx];
  const labels = panelTicks[idx];
  const ticks = labels.map(Number);
  const all = values.flat();
  const lo0 = Math.min(0, ...all);
  const hi0 = Math.max(0, ...all);
  const pad = (hi0 - lo0) * 0.05;
  const lo = lo0 - pad;
  const hi = hi0 + pad;
  const sorted = [...ticks].sort((a, b) => a - b);
  const step = sorted[1] - sorted[0];
  const minor: number[] = [];
  for (let k = -3; k < sorted.length + 3; k++) {
    const v = sorted[0] + (k + 0.5) * step;
    if (v > lo && v < hi) minor.push(v);
  }
  // shrink tick text where labels sit closer than the text height
  const tickGap = (step / (hi - lo)) * PH;
  const tickFont = Math.min(20.5, tickGap - 1);
  const col = idx % 5;
  const row = Math.floor(idx / 5);
  const left = COL_LEFT[col];
  const top = ROW_TOP[row];
  return (
    <>
      <div
        style={{
          position: 'absolute', left, top: top - 27.5, width: PW, height: 27,
          background: '#D9D9D9', color: '#1A1A1A', fontSize: 19.5, lineHeight: '27px',
          textAlign: 'center', fontFamily: FONT,
        }}
      >
        {stripLabels[idx]}
      </div>
      <div style={{ position: 'absolute', left: left - AXIS_W, top: top - M_TOP }}>
        <ScatterChart width={AXIS_W + PW + 4} height={PH + 2 * M_TOP} margin={{ top: M_TOP, right: 4, bottom: M_TOP, left: 0 }}>
          <CartesianGrid horizontalValues={minor} verticalValues={xMinor} stroke="#EBEBEB" strokeWidth={1} />
          <CartesianGrid horizontalValues={ticks} verticalValues={xMajor} stroke="#EBEBEB" strokeWidth={2} />
          <XAxis type="number" dataKey="x" domain={xDomain} hide allowDataOverflow />
          <YAxis
            type="number" dataKey="y" domain={[lo, hi]} ticks={ticks} interval={0} allowDataOverflow
            width={AXIS_W} tickSize={6} tickMargin={5} axisLine={false}
            tickLine={{ stroke: '#333333', strokeWidth: 1.2 }}
            tick={{ fill: '#4D4D4D', fontSize: tickFont, fontFamily: FONT }}
            tickFormatter={(v: number) => labels[ticks.indexOf(v)]}
          />
          {values.map((vals, g) => (
            <Scatter
              key={cellTypes[g]}
              name={cellTypes[g]}
              data={[...toPoints(vals, g, 0.5), ...(extra ? toPoints(extra[g], g, 0) : [])]}
              fill={cellColors[g]}
              shape={<Dot />}
              isAnimationActive={false}
            />
          ))}
          <ReferenceLine y={0} stroke="#000000" strokeWidth={1.3} strokeDasharray="10 10" />
        </ScatterChart>
      </div>
      <div
        style={{
          position: 'absolute', left: left - 0.6, top: top - 0.6, width: PW, height: PH,
          border: '1.2px solid #333333', pointerEvents: 'none',
        }}
      />
    </>
  );
}

const legendCols = [[0, 1, 2], [3, 4, 5], [6, 7, 8], [9, 10, 11], [12]];

export default function App() {
  return (
    <div style={{ position: 'absolute', left: 0, top: 0, width: 1344, height: 960, background: '#FFFFFF', fontFamily: FONT }}>
      <svg width={1344} height={960} style={{ position: 'absolute', left: 0, top: 0 }}>
        <text x={98} y={37} fontSize={32.2} fill="#000000" fontFamily={FONT}>Maxima (obj &gt; -Inf)</text>
        <text x={33} y={405.8} fontSize={26.5} fill="#000000" fontFamily={FONT} textAnchor="middle" transform="rotate(-90 33 405.8)">Loading</text>
        <text x={191} y={852} fontSize={26.5} fill="#000000" fontFamily={FONT} dominantBaseline="central">Cell type</text>
        {legendCols.map((items, c) =>
          items.map((g, r) => {
            const kx = [331, 569, 698, 873, 1117][c];
            const ky = [792, 852, 911][r];
            return (
              <g key={cellTypes[g]}>
                <circle cx={kx} cy={ky} r={9.5} fill={cellColors[g]} />
                <text x={kx + 36} y={ky} fontSize={21} fill="#000000" fontFamily={FONT} dominantBaseline="central">{cellTypes[g]}</text>
              </g>
            );
          })
        )}
      </svg>
      {panelValues.map((_, i) => <Panel key={i} idx={i} />)}
    </div>
  );
}
